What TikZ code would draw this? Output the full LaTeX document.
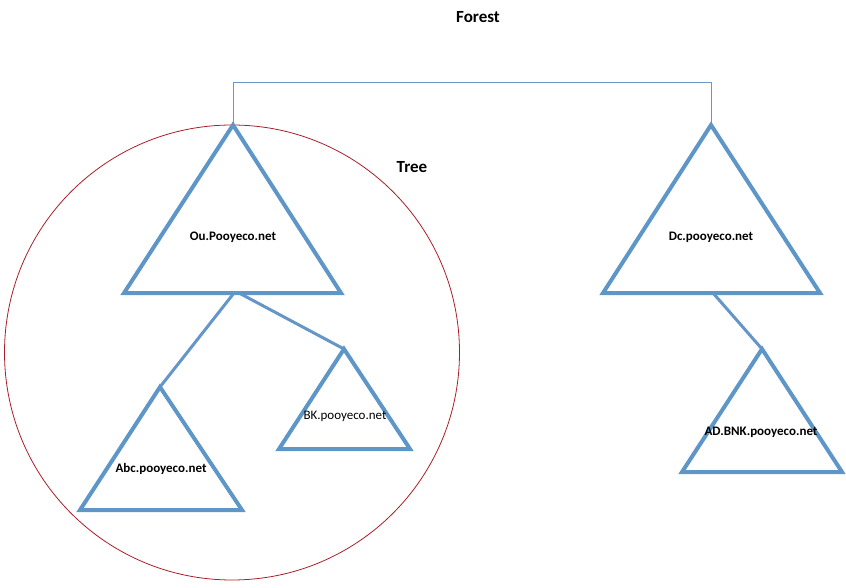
\documentclass[tikz,border=0pt]{standalone}
\usepackage{fontspec}
\setmainfont{Carlito}
\definecolor{triblue}{RGB}{94,150,200}
\definecolor{linkblue}{RGB}{100,150,200}
\definecolor{frameblue}{RGB}{110,150,195}
\definecolor{circred}{RGB}{170,30,40}
\tikzset{
  tri/.style={draw=triblue, line width=4pt, line join=miter},
  link/.style={draw=linkblue, line width=3pt},
  frame/.style={draw=frameblue, line width=0.9pt},
  lbl/.style={font=\fontsize{13}{15}\selectfont\bfseries, inner sep=0pt},
  lblr/.style={font=\fontsize{13}{15}\selectfont, inner sep=0pt},
  big/.style={font=\fontsize{17}{20}\selectfont\bfseries, inner sep=0pt}
}
\begin{document}
\begin{tikzpicture}[x=1pt,y=-1pt]
\useasboundingbox (0,0) rectangle (846,588);
% tree circle
\node[draw=circred, line width=0.8pt, circle, minimum size=455pt, inner sep=0pt] (circ) at (232,352.5) {};
% triangle corner coordinates
\coordinate (t1a) at (233,125); \coordinate (t1l) at (124,293); \coordinate (t1r) at (341,293);
\coordinate (t2a) at (711,125); \coordinate (t2l) at (603,293); \coordinate (t2r) at (820,293);
\coordinate (t3a) at (160,387); \coordinate (t3l) at (80,510); \coordinate (t3r) at (242,510);
\coordinate (t4a) at (344,349); \coordinate (t4l) at (279,449); \coordinate (t4r) at (410,449);
\coordinate (t5a) at (762,349); \coordinate (t5l) at (682,472); \coordinate (t5r) at (842,472);
\coordinate (t1b) at (234,293); \coordinate (t1c) at (239,293);
\coordinate (t2b) at (713,293);
\coordinate (fl) at (233,82); \coordinate (fr) at (711,82);
% forest bracket
\draw[frame] (t1a) -- (fl) -- (fr) -- (t2a);
% connectors
\draw[link] (t1b) -- (t3a);
\draw[link] (t1c) -- (t4a);
\draw[link] (t2b) -- (t5a);
% triangles
\draw[tri] (t1a) -- (t1l) -- (t1r) -- cycle;
\draw[tri] (t2a) -- (t2l) -- (t2r) -- cycle;
\draw[tri] (t3a) -- (t3l) -- (t3r) -- cycle;
\draw[tri] (t4a) -- (t4l) -- (t4r) -- cycle;
\draw[tri] (t5a) -- (t5l) -- (t5r) -- cycle;
% labels
\node[big] (forest) at (478,17) {Forest};
\node[big] (tree) at (412,167) {Tree};
\node[lbl] (ou) at (233,237) {Ou.Pooyeco.net};
\node[lbl] (dc) at (711,237) {Dc.pooyeco.net};
\node[lbl] (abc) at (161,469) {Abc.pooyeco.net};
\node[lblr] (bk) at (345,416) {BK.pooyeco.net};
\node[lbl] (ad) at (761,432) {AD.BNK.pooyeco.net};
\end{tikzpicture}
\end{document}
